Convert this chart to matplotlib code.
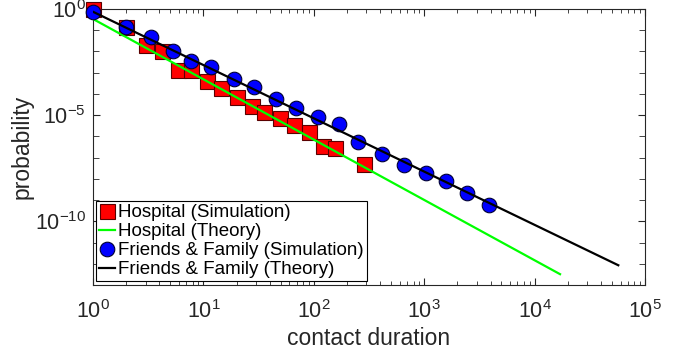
import matplotlib
matplotlib.use("Agg")
import matplotlib.pyplot as plt
import numpy as np
from matplotlib.ticker import LogLocator, NullFormatter

plt.rcParams["font.family"] = ["Liberation Sans", "DejaVu Sans"]
plt.rcParams["axes.unicode_minus"] = False
plt.rcParams["mathtext.fontset"] = "custom"
plt.rcParams["mathtext.rm"] = "Liberation Sans"

# Hospital (Simulation)
hosp_x = [1, 2, 3, 4.25, 5.9, 7.7, 10.7, 14.4, 20, 27.4, 35.6, 49.4, 66.5, 91, 120, 156, 285]
hosp_logy = [0.0, -0.86, -1.69, -2.0, -2.86, -2.86, -3.37, -3.72, -4.15, -4.55,
             -4.84, -5.15, -5.47, -5.77, -6.46, -6.54, -7.28]

# Hospital (Theory) - straight power law, end points
hosp_th_x = [1, 17000]
hosp_th_logy = [-0.47, -12.49]

# Friends & Family (Simulation)
ff_x = [1, 2, 3.35, 5.3, 7.7, 11.7, 18.9, 28.7, 45.5, 69, 109, 169, 251, 415,
        656, 1038, 1575, 2443, 3864]
ff_logy = [-0.13, -0.86, -1.33, -2.0, -2.43, -2.74, -3.29, -3.68, -4.23, -4.66,
           -5.08, -5.42, -6.25, -6.81, -7.35, -7.72, -8.10, -8.69, -9.21]

# Friends & Family (Theory)
ff_th_x = [1, 57300]
ff_th_logy = [-0.13, -12.07]

hosp_y = 10.0 ** np.array(hosp_logy)
hosp_th_y = 10.0 ** np.array(hosp_th_logy)
ff_y = 10.0 ** np.array(ff_logy)
ff_th_y = 10.0 ** np.array(ff_th_logy)

fig = plt.figure(figsize=(6.85, 3.56), dpi=100)
ax = fig.add_axes([93 / 685, 1 - 285 / 356, 552 / 685, 276 / 356])

ax.plot(hosp_x, hosp_y, "s", ms=10.8, mfc="#ff0000", mec="#5a0000", mew=0.8,
        ls="none", label="Hospital (Simulation)", clip_on=False, zorder=3)
ax.plot(hosp_th_x, hosp_th_y, color="#00ff00", lw=1.6, label="Hospital (Theory)", zorder=4)
ax.plot(ff_x, ff_y, "o", ms=10.5, mfc="#0000ff", mec="#000033", mew=0.8,
        ls="none", label="Friends & Family (Simulation)", clip_on=False, zorder=5)
ax.plot(ff_th_x, ff_th_y, color="black", lw=1.6, label="Friends & Family (Theory)", zorder=6)

ax.set_xscale("log")
ax.set_yscale("log")
ax.set_xlim(1, 1e5)
ax.set_ylim(1e-13, 1)

ax.xaxis.set_major_locator(LogLocator(base=10, numticks=10))
ax.xaxis.set_minor_locator(LogLocator(base=10, subs=np.arange(2, 10), numticks=20))
ax.xaxis.set_minor_formatter(NullFormatter())
ax.set_yticks([1e-10, 1e-5, 1])
ax.yaxis.set_minor_locator(LogLocator(base=10, subs=[1.0], numticks=30))
ax.yaxis.set_minor_formatter(NullFormatter())

ax.tick_params(which="both", direction="in", top=True, right=True, colors="#262626",
               labelcolor="#262626", labelsize=15.5)
ax.tick_params(axis="x", which="major", length=5, pad=11)
ax.tick_params(axis="x", which="minor", length=3)
ax.tick_params(axis="y", which="major", length=5, pad=5)
ax.tick_params(axis="y", which="minor", length=4)
for sp in ax.spines.values():
    sp.set_color("#262626")
    sp.set_linewidth(0.8)

ax.set_xlabel("contact duration", fontsize=16.5, color="#262626", labelpad=3)
ax.set_ylabel("probability", fontsize=16.5, color="#262626", labelpad=1)

leg = ax.legend(loc="lower left", bbox_to_anchor=(0.005, 0.014), fontsize=13.5,
                frameon=True, fancybox=False, framealpha=1, edgecolor="black",
                handlelength=0.9, handletextpad=0.15, borderpad=0.15,
                labelspacing=0.1, borderaxespad=0, markerscale=1.0)
leg.get_frame().set_linewidth(0.8)

fig.savefig("out.png", dpi=100)
